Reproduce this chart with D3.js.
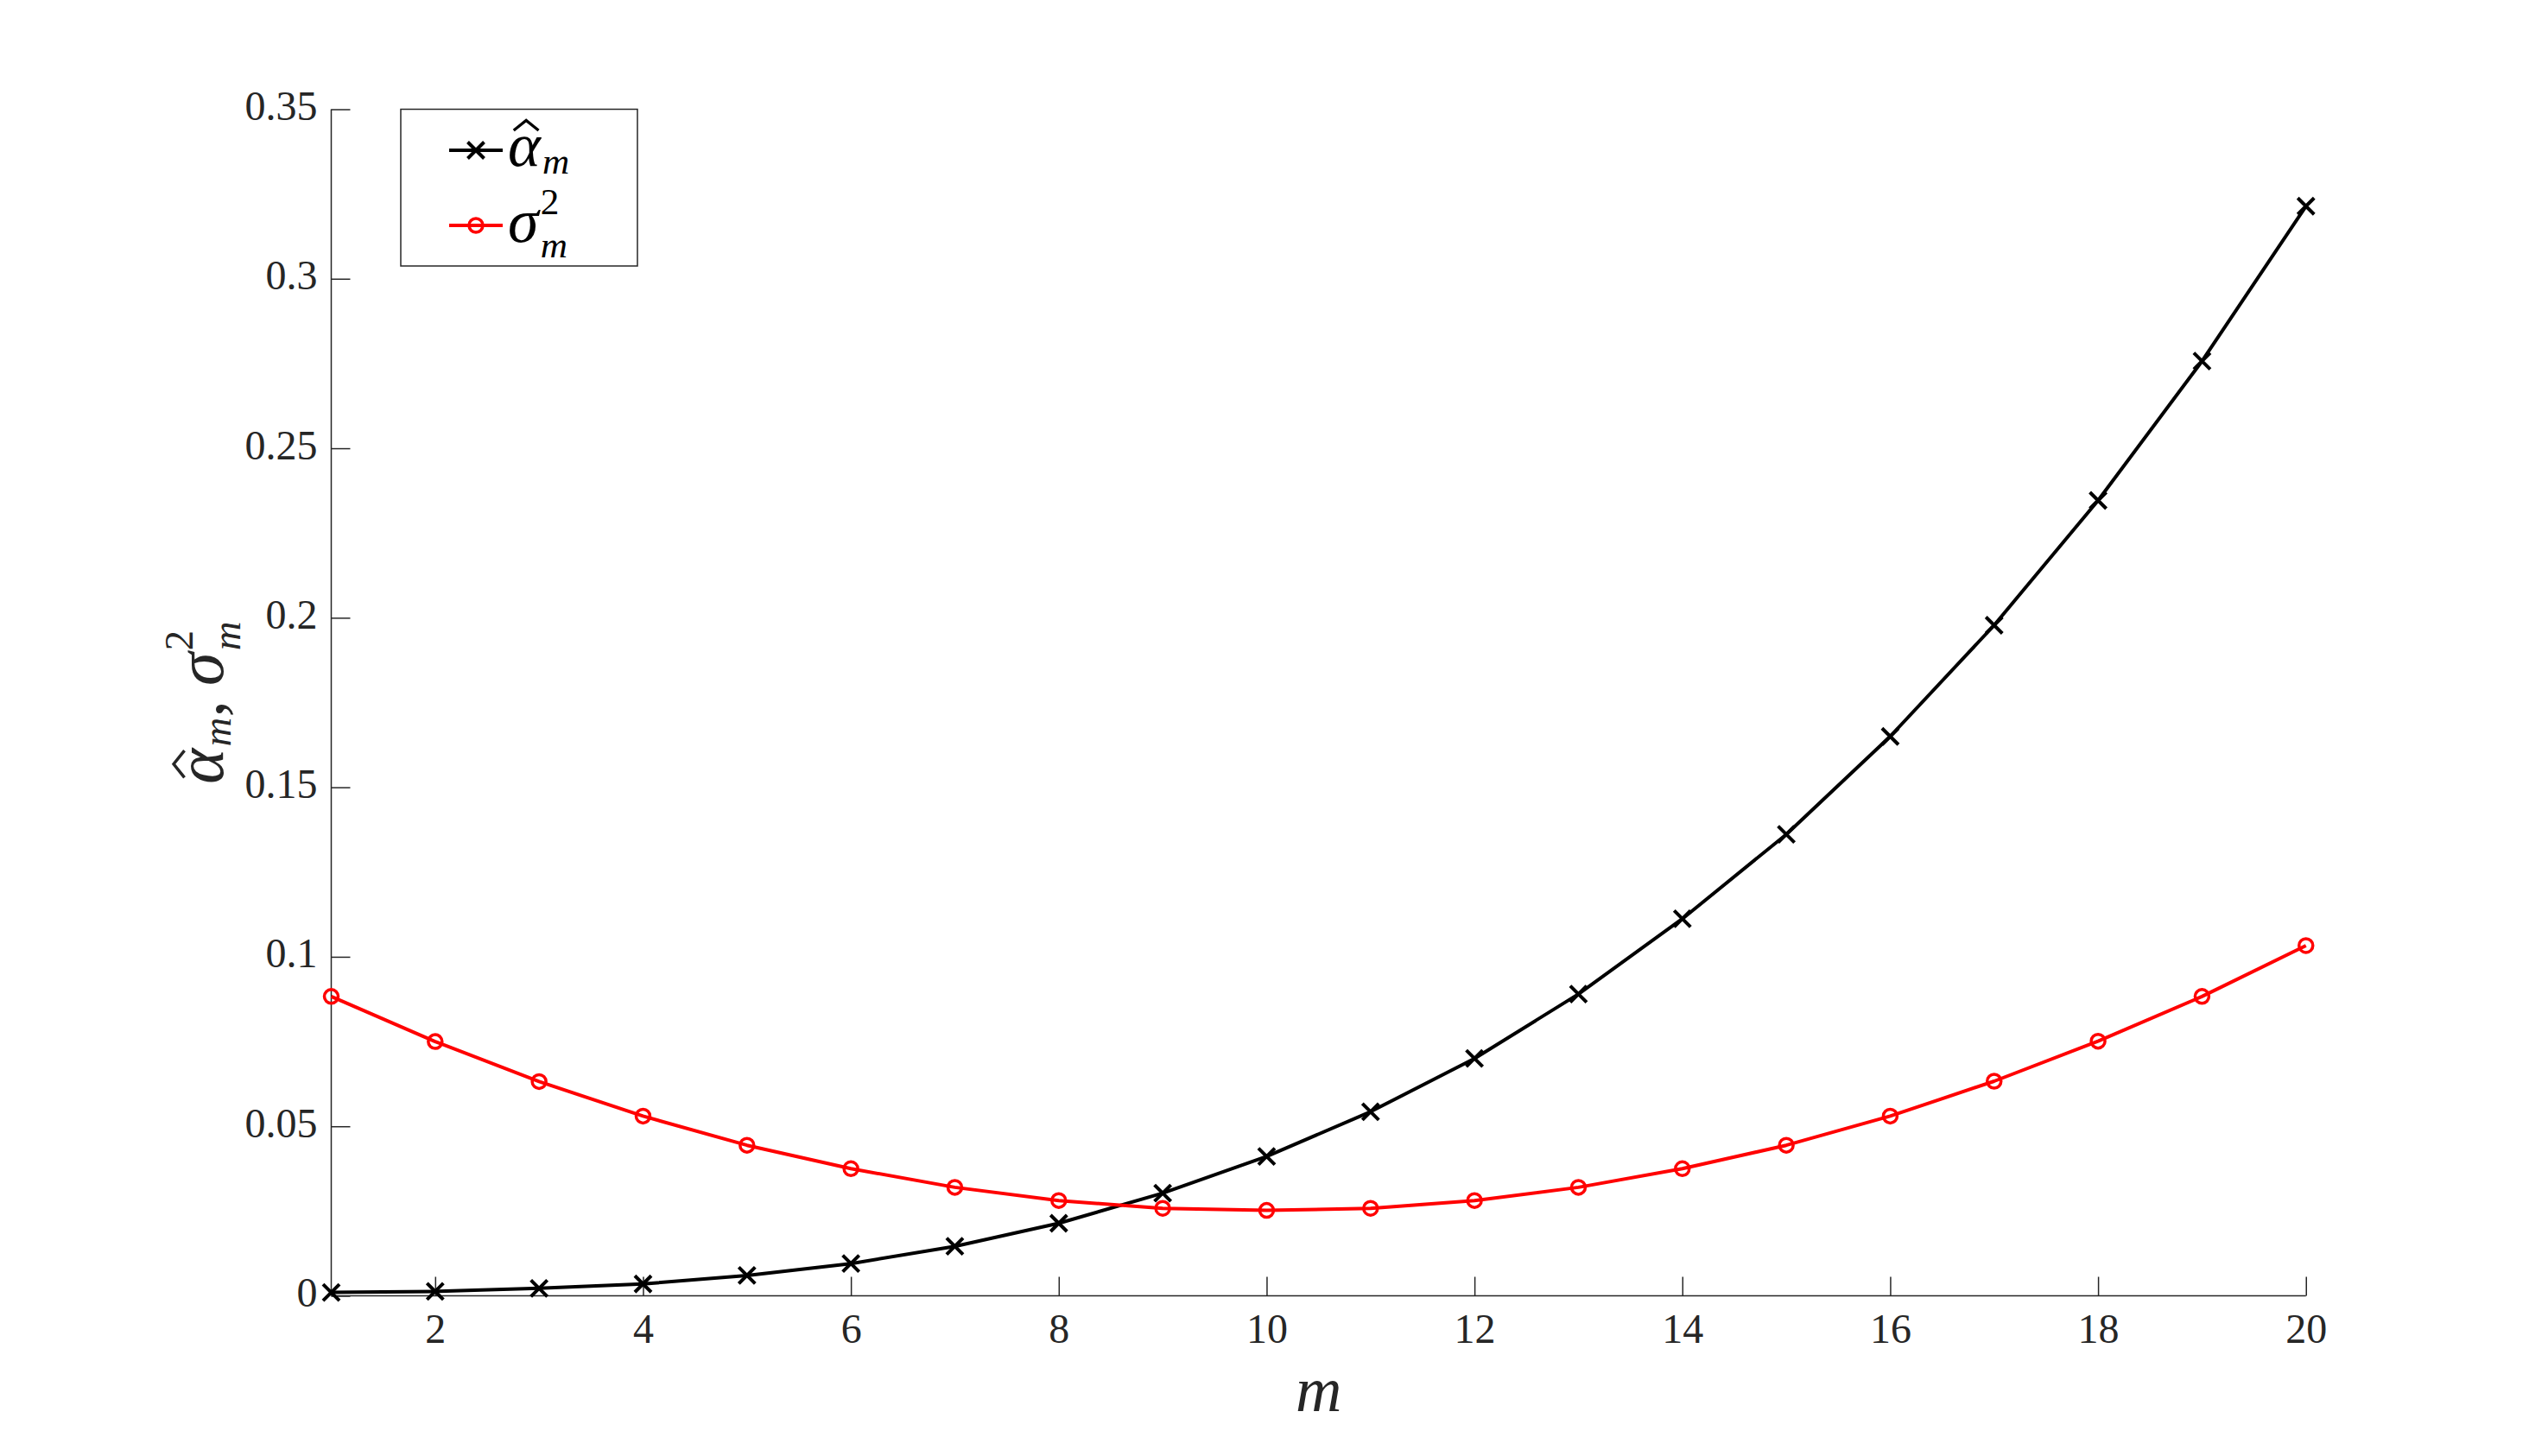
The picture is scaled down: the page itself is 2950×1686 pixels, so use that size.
<!DOCTYPE html>
<html>
<head>
<meta charset="utf-8">
<script src="https://cdn.jsdelivr.net/npm/d3@7"></script>
<style>
  html, body { margin: 0; padding: 0; background: #fff; }
  svg { display: block; }
  text { font-family: "Liberation Serif", "DejaVu Serif", serif; }
</style>
</head>
<body>
<svg id="chart" width="2950" height="1686"></svg>
<script>
// ---------------- data ----------------
const mValues = [1,2,3,4,5,6,7,8,9,10,11,12,13,14,15,16,17,18,19,20];
const alphaHat = [0.0010,0.0013,0.0022,0.0035,0.0060,0.0095,0.0146,0.0214,0.0303,0.0411,
                  0.0543,0.0700,0.0890,0.1112,0.1361,0.1650,0.1978,0.2346,0.2757,0.3214];
const sigma2   = [0.0883,0.0750,0.0632,0.0530,0.0444,0.0375,0.0320,0.0281,0.0258,0.0252,
                  0.0258,0.0281,0.0320,0.0375,0.0444,0.0530,0.0633,0.0751,0.0883,0.1033];
const xTicks = [2,4,6,8,10,12,14,16,18,20];
const yTicks = [0,0.05,0.1,0.15,0.2,0.25,0.3,0.35];
const yTickLabels = ["0","0.05","0.1","0.15","0.2","0.25","0.3","0.35"];

// ---------------- layout ----------------
const axL = 383.5, axR = 2669.75, axT = 126.5, axB = 1500.5;
const axisColor = "#262626";
const tickLen = 22;

const svg = d3.select("#chart");
const x = d3.scaleLinear().domain([1, 20]).range([axL, axR]);
const y = d3.scaleLinear().domain([0, 0.35]).range([axB, axT]);

// axes
const xAxis = d3.axisBottom(x).tickValues(xTicks).tickSize(0).tickFormat(d => d);
const gx = svg.append("g").attr("transform", `translate(0,${axB})`).call(xAxis);
gx.select(".domain").attr("stroke", axisColor).attr("stroke-width", 1.5)
  .attr("d", `M${axL},0H${axR}`);
gx.selectAll(".tick line").remove();
gx.selectAll(".tick").append("line")
  .attr("y1", 0).attr("y2", -tickLen).attr("stroke", axisColor).attr("stroke-width", 1.5);
gx.selectAll(".tick text").attr("y", 54).attr("dy", null)
  .attr("fill", axisColor).style("font-size", "48px");
gx.attr("font-family", null);

const yAxis = d3.axisLeft(y).tickValues(yTicks).tickSize(0)
  .tickFormat((d, i) => yTickLabels[i]);
const gy = svg.append("g").attr("transform", `translate(${axL},0)`).call(yAxis);
gy.select(".domain").attr("stroke", axisColor).attr("stroke-width", 1.5)
  .attr("d", `M0,${axT}V${axB}`);
gy.selectAll(".tick line").remove();
gy.selectAll(".tick").append("line")
  .attr("x1", 0).attr("x2", tickLen).attr("stroke", axisColor).attr("stroke-width", 1.5);
gy.selectAll(".tick text").attr("x", -16).attr("dy", null).attr("y", 12)
  .attr("fill", axisColor).style("font-size", "48px");
gy.attr("font-family", null);

// lines
const line = d3.line().x((d, i) => x(mValues[i])).y(d => y(d));
svg.append("path").datum(alphaHat).attr("d", line)
  .attr("fill", "none").attr("stroke", "#000").attr("stroke-width", 4).attr("stroke-linejoin", "round");
svg.append("path").datum(sigma2).attr("d", line)
  .attr("fill", "none").attr("stroke", "#ff0000").attr("stroke-width", 4).attr("stroke-linejoin", "round");

const cs = 9.5; // cross half size
function crossPath(cx, cy) {
  return `M${cx-cs},${cy-cs}L${cx+cs},${cy+cs}M${cx-cs},${cy+cs}L${cx+cs},${cy-cs}`;
}
svg.append("g").selectAll("path").data(alphaHat).join("path")
  .attr("d", (d, i) => crossPath(x(mValues[i]), y(d)))
  .attr("stroke", "#000").attr("stroke-width", 4).attr("fill", "none");
svg.append("g").selectAll("circle").data(sigma2).join("circle")
  .attr("cx", (d, i) => x(mValues[i])).attr("cy", d => y(d)).attr("r", 8)
  .attr("stroke", "#ff0000").attr("stroke-width", 3.5).attr("fill", "none");

// ------------- math text helper -------------
const scriptScale = 0.6;
function buildMath(g, items, size, color) {
  let cx = 0;
  items.forEach(it => {
    const t = g.append("text").attr("x", cx).attr("y", 0)
      .style("font-size", size + "px").style("font-style", it.italic ? "italic" : "normal")
      .attr("fill", color).text(it.txt);
    const w = t.node().getComputedTextLength();
    if (it.hat) {
      const hc = cx + w * 0.56, hw = 0.2 * size;
      g.append("path")
        .attr("d", `M${hc - hw},${-0.57 * size}L${hc},${-0.73 * size}L${hc + hw},${-0.57 * size}`)
        .attr("fill", "none").attr("stroke", color).attr("stroke-width", 0.045 * size)
        .attr("stroke-linejoin", "miter");
    }
    const sx = cx + w + 0.03 * size;
    let sw = 0;
    if (it.sup) {
      const a = g.append("text").attr("x", sx).attr("y", -0.45 * size)
        .style("font-size", (scriptScale * size) + "px").attr("fill", color).text(it.sup);
      sw = Math.max(sw, a.node().getComputedTextLength());
    }
    if (it.sub) {
      const b = g.append("text").attr("x", sx).attr("y", (it.sup ? 0.25 : 0.12) * size)
        .style("font-size", (scriptScale * size) + "px").style("font-style", "italic")
        .attr("fill", color).text(it.sub);
      sw = Math.max(sw, b.node().getComputedTextLength());
    }
    cx = (it.sup || it.sub) ? sx + sw : cx + w;
    cx += (it.after || 0) * size;
  });
  return cx;
}

// ------------- axis labels -------------
svg.append("text").attr("x", (axL + axR) / 2).attr("y", 1634)
  .attr("text-anchor", "middle").style("font-size", "74px").style("font-style", "italic")
  .attr("fill", axisColor).text("m");

const yl = svg.append("g").attr("transform", `translate(258,${(axT + axB) / 2}) rotate(-90)`);
const ylInner = yl.append("g");
const ylW = buildMath(ylInner, [
  {txt: "α", italic: true, hat: true, sub: "m"},
  {txt: ",", italic: false, after: 0.22},
  {txt: "σ", italic: true, sup: "2", sub: "m"}
], 78, axisColor);
ylInner.attr("transform", `translate(${-ylW / 2},0)`);

// ------------- legend -------------
const lg = svg.append("g");
lg.append("rect").attr("x", 464).attr("y", 126.5).attr("width", 274).attr("height", 181.5)
  .attr("fill", "#fff").attr("stroke", axisColor).attr("stroke-width", 1.5);
const legendRows = [
  {cy: 174, color: "#000", marker: "x", items: [{txt: "α", italic: true, hat: true, sub: "m"}], base: 192},
  {cy: 261, color: "#ff0000", marker: "o", items: [{txt: "σ", italic: true, sup: "2", sub: "m"}], base: 280}
];
legendRows.forEach(r => {
  lg.append("line").attr("x1", 520).attr("x2", 582).attr("y1", r.cy).attr("y2", r.cy)
    .attr("stroke", r.color).attr("stroke-width", 4);
  if (r.marker === "x") {
    lg.append("path").attr("d", crossPath(551, r.cy)).attr("stroke", r.color)
      .attr("stroke-width", 4).attr("fill", "none");
  } else {
    lg.append("circle").attr("cx", 551).attr("cy", r.cy).attr("r", 8)
      .attr("stroke", r.color).attr("stroke-width", 3.5).attr("fill", "none");
  }
  const tg = lg.append("g").attr("transform", `translate(588,${r.base})`);
  buildMath(tg, r.items, 72, "#000");
});
</script>
</body>
</html>
